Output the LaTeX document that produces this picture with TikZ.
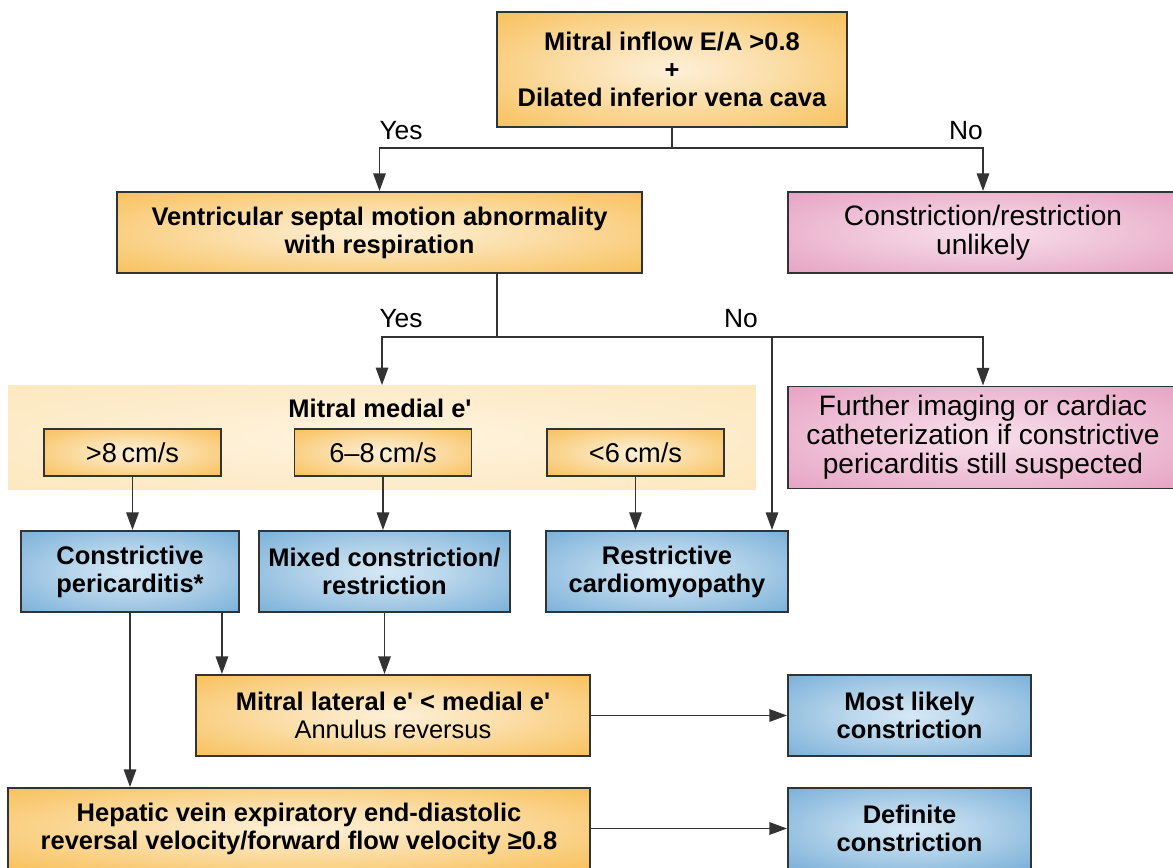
\documentclass[tikz,border=0pt]{standalone}
\usepackage{fontspec}
\setmainfont{Liberation Sans}
\usepackage{xcolor}
\usetikzlibrary{positioning,arrows.meta}

\definecolor{orOut}{HTML}{F8C05A}
\definecolor{orIn}{HTML}{FDF0D8}
\definecolor{blOut}{HTML}{7AB0D8}
\definecolor{blIn}{HTML}{D6E8F5}
\definecolor{pkOut}{HTML}{E6A2C3}
\definecolor{pkIn}{HTML}{F7DFEA}
\definecolor{bandOut}{HTML}{FDE6BA}
\definecolor{bandIn}{HTML}{FEF4E0}
\definecolor{edge}{HTML}{333333}

\pgfdeclareradialshading{orglow}{\pgfpoint{0bp}{0bp}}{color(0bp)=(orIn); color(12bp)=(orIn!70!orOut); color(36bp)=(orOut); color(50bp)=(orOut)}
\pgfdeclareradialshading{blglow}{\pgfpoint{0bp}{0bp}}{color(0bp)=(blIn); color(12bp)=(blIn!70!blOut); color(36bp)=(blOut); color(50bp)=(blOut)}
\pgfdeclareradialshading{pkglow}{\pgfpoint{0bp}{0bp}}{color(0bp)=(pkIn); color(12bp)=(pkIn!70!pkOut); color(36bp)=(pkOut); color(50bp)=(pkOut)}
\pgfdeclareradialshading{bandglow}{\pgfpoint{0bp}{0bp}}{color(0bp)=(bandIn); color(15bp)=(bandIn!60!bandOut); color(40bp)=(bandOut); color(50bp)=(bandOut)}

\tikzstyle{box} = [rectangle, draw=edge, line width=1.1pt, align=center, inner sep=2pt]
\tikzstyle{orangebox} = [box, shade, shading=orglow, font=\fontsize{14.5}{16}\selectfont\bfseries]
\tikzstyle{bluebox} = [box, shade, shading=blglow, font=\fontsize{14.5}{16}\selectfont\bfseries]
\tikzstyle{pinkbox} = [box, shade, shading=pkglow, font=\fontsize{16}{16.6}\selectfont]
\tikzstyle{rangebox} = [box, shade, shading=orglow, font=\fontsize{15.5}{17}\selectfont, minimum width=3.54cm, minimum height=0.94cm]
\tikzstyle{answer} = [font=\fontsize{15}{16}\selectfont, inner sep=0pt]
\tikzstyle{line} = [draw=edge, line width=1.1pt]
\tikzstyle{arrow} = [line, -{Triangle[length=10pt,width=7pt]}]

\begin{document}
\begin{tikzpicture}[x=0.02cm, y=-0.02cm]
    \useasboundingbox (0,0) rectangle (1173,868);

    % Top question
    \node[orangebox, minimum width=7cm, minimum height=2.3cm] (top) at (672,69.5) {Mitral inflow E/A >0.8\\+\\Dilated inferior vena cava};

    % Second row
    \node[orangebox, minimum width=10.5cm, minimum height=1.62cm] (septal) at (379.5,232.5) {Ventricular septal motion abnormality\\with respiration};
    \node[pinkbox, minimum width=7.8cm, minimum height=1.62cm] (unlikely) at (983,232.5) {Constriction/restriction\\unlikely};

    % Medial e' band
    \node[shade, shading=bandglow, minimum width=14.96cm, minimum height=2.08cm] (band) at (382,437.5) {};
    \node[font=\fontsize{14.5}{16}\selectfont\bfseries, inner sep=0pt] (medial) at (380,408) {Mitral medial e\textquotesingle};
    \node[rangebox] (gt8) at (132.5,452.5) {>8\,cm/s};
    \node[rangebox] (mid) at (383,452.5) {6--8\,cm/s};
    \node[rangebox] (lt6) at (635.5,452.5) {<6\,cm/s};
    \node[pinkbox, minimum width=7.8cm, minimum height=2.04cm] (further) at (983,437.5) {Further imaging or cardiac\\catheterization if constrictive\\pericarditis still suspected};

    % Diagnoses
    \node[bluebox, minimum width=4.36cm, minimum height=1.62cm] (cp) at (130,571.5) {Constrictive\\pericarditis*};
    \node[bluebox, minimum width=5.02cm, minimum height=1.62cm] (mixed) at (384.5,571.5) {Mixed constriction/\\restriction};
    \node[bluebox, minimum width=4.84cm, minimum height=1.62cm] (rcm) at (667,571.5) {Restrictive\\cardiomyopathy};

    % Lateral e'
    \node[orangebox, font=\fontsize{14.5}{16}\selectfont, minimum width=7.88cm, minimum height=1.62cm] (lateral) at (393,715.5) {\textbf{Mitral lateral e\textquotesingle\ < medial e\textquotesingle}\\Annulus reversus};
    \node[bluebox, minimum width=4.86cm, minimum height=1.62cm] (likely) at (909.5,715.5) {Most likely\\constriction};

    % Hepatic vein
    \node[orangebox, minimum width=11.64cm, minimum height=1.62cm] (hepatic) at (299,828.5) {Hepatic vein expiratory end-diastolic\\reversal velocity/forward flow velocity ≥0.8};
    \node[bluebox, minimum width=4.86cm, minimum height=1.62cm] (definite) at (909.5,828.5) {Definite\\constriction};

    % Yes / No labels
    \node[answer] (yes1) at (401,131) {Yes};
    \node[answer] (no1) at (966,131) {No};
    \node[answer] (yes2) at (401,319) {Yes};
    \node[answer] (no2) at (741,319) {No};

    % Junctions
    \coordinate (j1) at (672,148);
    \coordinate (j2) at (497,337);
    \coordinate (j3) at (772,337);

    % Arrows
    \draw[line] (top) -- (j1);
    \draw[arrow] (j1) -| (septal);
    \draw[arrow] (j1) -| (unlikely);
    \draw[line] (septal.south -| j2) -- (j2);
    \draw[arrow] (j2) -| (band.north);
    \draw[arrow] (j2) -| (further);
    \draw[arrow] (j3) -- (j3 |- rcm.north);
    \draw[arrow] (gt8.south) -- (gt8.south |- cp.north);
    \draw[arrow] (mid.south) -- (mid.south |- mixed.north);
    \draw[arrow] (lt6.south) -- (lt6.south |- rcm.north);
    \draw[arrow] (cp.south) -- (cp.south |- hepatic.north);
    \draw[arrow] ([xshift=-0.36cm]cp.south east) -- ([xshift=-0.36cm]cp.south east |- lateral.north);
    \draw[arrow] (mixed.south) -- (mixed.south |- lateral.north);
    \draw[arrow] (lateral) -- (likely);
    \draw[arrow] (hepatic) -- (definite);
\end{tikzpicture}
\end{document}
